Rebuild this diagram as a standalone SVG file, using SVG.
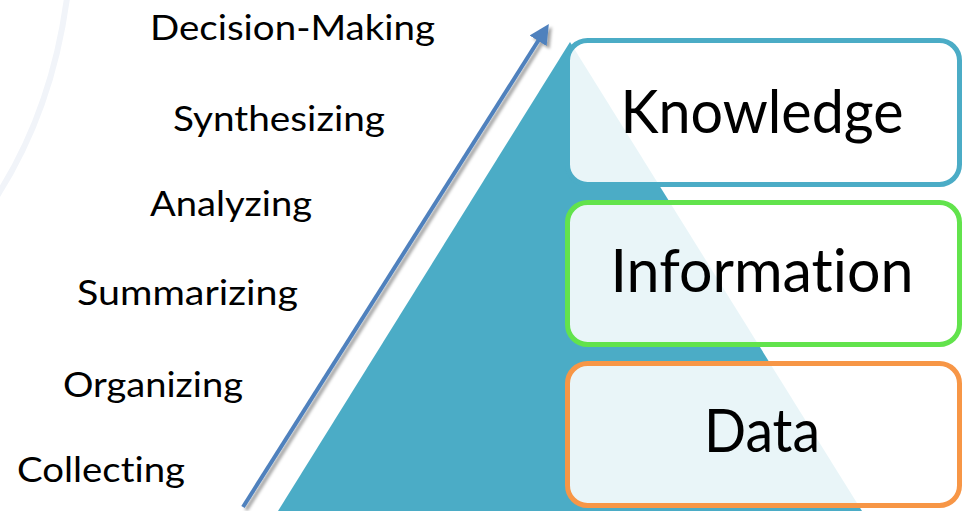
<svg xmlns="http://www.w3.org/2000/svg" width="965" height="511" viewBox="0 0 965 511">
  <style>
    text { font-variant-ligatures: none; }
    .step { font-family: Lato, "Liberation Sans", sans-serif; font-size: 34px; fill: #000; }
    .tier-label { font-family: Lato, "Liberation Sans", sans-serif; font-size: 60px; fill: #000; text-anchor: middle; }
    .tier { fill: #ffffff; fill-opacity: 0.88; stroke-width: 5; }
  </style>
  <defs>
    <marker id="arrowhead" markerWidth="5" markerHeight="5" refX="3.2" refY="2.5" orient="auto" markerUnits="strokeWidth">
      <path d="M0,0 L5,2.5 L0,5 Z" fill="#4F81BD"/>
    </marker>
    <filter id="shadow" x="-20%" y="-20%" width="140%" height="140%">
      <feDropShadow dx="3" dy="3" stdDeviation="1.5" flood-color="#000" flood-opacity="0.35"/>
    </filter>
  </defs>

  <rect width="965" height="511" fill="#ffffff"/>

  <!-- faint decorative arc -->
  <path d="M67,-2 Q52,110 -3,196" fill="none" stroke="#F1F4F9" stroke-width="6"/>

  <!-- pyramid -->
  <polygon id="pyramid" points="570,42 278,511 862,511" fill="#4BACC6"/>

  <!-- tiers -->
  <g id="knowledge">
    <rect class="tier" x="567.5" y="40.5" width="392" height="144" rx="20" stroke="#4BACC6"/>
    <text class="tier-label" x="762" y="133" textLength="283" lengthAdjust="spacingAndGlyphs">Knowledge</text>
  </g>
  <g id="information">
    <rect class="tier" x="567.5" y="202.5" width="392" height="142" rx="20" stroke="#62E34C"/>
    <text class="tier-label" x="762" y="292" textLength="303" lengthAdjust="spacingAndGlyphs">Information</text>
  </g>
  <g id="data">
    <rect class="tier" x="567.5" y="363.5" width="392" height="142" rx="20" stroke="#F79646"/>
    <text class="tier-label" x="762" y="452" textLength="116" lengthAdjust="spacingAndGlyphs">Data</text>
  </g>

  <!-- process steps -->
  <g id="decision-making"><text class="step" x="150" y="40" textLength="285" lengthAdjust="spacingAndGlyphs">Decision-Making</text></g>
  <g id="synthesizing"><text class="step" x="173" y="131" textLength="212" lengthAdjust="spacingAndGlyphs">Synthesizing</text></g>
  <g id="analyzing"><text class="step" x="150" y="216" textLength="162" lengthAdjust="spacingAndGlyphs">Analyzing</text></g>
  <g id="summarizing"><text class="step" x="77" y="305" textLength="221" lengthAdjust="spacingAndGlyphs">Summarizing</text></g>
  <g id="organizing"><text class="step" x="63" y="397" textLength="180" lengthAdjust="spacingAndGlyphs">Organizing</text></g>
  <g id="collecting"><text class="step" x="17" y="482" textLength="168" lengthAdjust="spacingAndGlyphs">Collecting</text></g>

  <!-- connectors -->
  <g id="connectors" filter="url(#shadow)">
    <line x1="243" y1="507" x2="545" y2="30" stroke="#4F81BD" stroke-width="4" marker-end="url(#arrowhead)"/>
  </g>
</svg>
